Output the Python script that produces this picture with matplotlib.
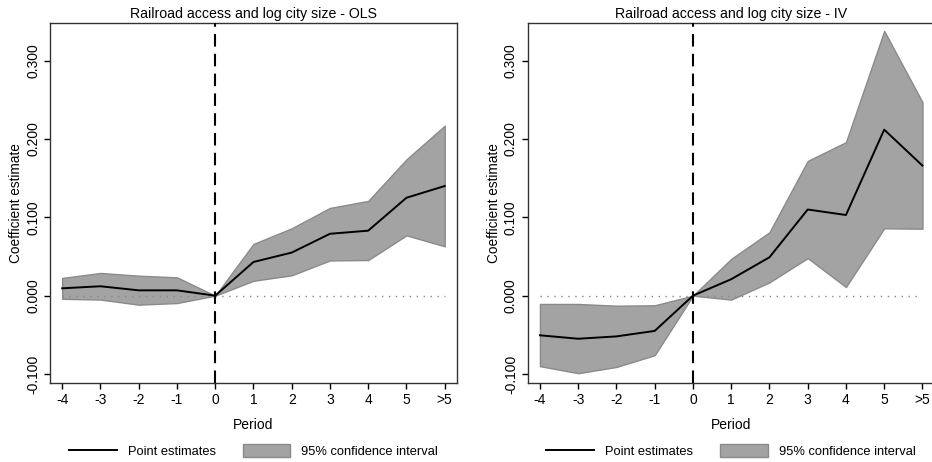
import numpy as np
import matplotlib.pyplot as plt
from matplotlib.patches import Patch
from matplotlib.lines import Line2D

plt.rcParams['font.family'] = ['Liberation Sans', 'DejaVu Sans']

# Event-time periods
periods = ['-4', '-3', '-2', '-1', '0', '1', '2', '3', '4', '5', '>5']

# OLS estimates and 95% CI
ols_point = [0.0094, 0.012, 0.0068, 0.0068, 0.0, 0.043, 0.055, 0.079, 0.083, 0.125, 0.140]
ols_upper = [0.0226, 0.029, 0.0255, 0.0234, 0.0, 0.066, 0.086, 0.112, 0.121, 0.174, 0.217]
ols_lower = [-0.004, -0.005, -0.0115, -0.0094, 0.0, 0.019, 0.026, 0.045, 0.0455, 0.077, 0.063]

# IV estimates and 95% CI
iv_point = [-0.0506, -0.055, -0.052, -0.045, 0.0, 0.021, 0.049, 0.110, 0.103, 0.212, 0.166]
iv_upper = [-0.0106, -0.0106, -0.0128, -0.0123, 0.0, 0.047, 0.081, 0.172, 0.196, 0.338, 0.247]
iv_lower = [-0.090, -0.099, -0.091, -0.076, 0.0, -0.005, 0.017, 0.048, 0.011, 0.086, 0.0855]

panels = [
    ('Railroad access and log city size - OLS', ols_point, ols_lower, ols_upper),
    ('Railroad access and log city size - IV', iv_point, iv_lower, iv_upper),
]

fig = plt.figure(figsize=(9.32, 4.62), dpi=100)
axes = [fig.add_axes([0.0536, 0.171, 0.4367, 0.779]),
        fig.add_axes([0.5662, 0.171, 0.4367, 0.779])]

x = np.arange(len(periods))
fill_col = '#a3a3a3'
edge_col = '#8a8a8a'

for ax, (title, point, lower, upper) in zip(axes, panels):
    ax.fill_between(x, lower, upper, facecolor=fill_col, edgecolor=edge_col, linewidth=1.0, zorder=1)
    ax.plot(x, point, color='black', linewidth=1.4, zorder=3)
    # zero reference line and treatment period
    ax.plot([x[0], x[-1]], [0, 0], color='#888888', linestyle=(0, (1, 4)), linewidth=1.0, zorder=2)
    ax.axvline(4, color='black', linestyle=(0, (6, 3.5)), linewidth=1.5, zorder=4)

    ax.set_xlim(-0.32, 10.32)
    ax.set_ylim(-0.1115, 0.348)
    ax.set_xticks(x)
    ax.set_xticklabels(periods)
    ax.set_yticks([-0.1, 0.0, 0.1, 0.2, 0.3])
    ax.set_yticklabels(['-0.100', '0.000', '0.100', '0.200', '0.300'], rotation=90, va='center')
    ax.tick_params(direction='out', length=4, width=1, labelsize=10, colors='black', pad=3)
    for s in ax.spines.values():
        s.set_color('#333333')
        s.set_linewidth(1.0)

    ax.set_title(title, fontsize=10.2, pad=4)
    ax.set_xlabel('Period', fontsize=10, labelpad=8)
    ax.set_ylabel('Coefficient estimate', fontsize=9.8, labelpad=2)

    handles = [Line2D([0], [0], color='black', linewidth=1.4),
               Patch(facecolor=fill_col, edgecolor=edge_col, linewidth=1.0)]
    ax.legend(handles, ['Point estimates', '95% confidence interval'],
              loc='center', bbox_to_anchor=(0.5, -0.189), ncol=2, frameon=False,
              fontsize=9.3, handlelength=3.7, handleheight=1.15, columnspacing=2.1,
              handletextpad=0.85, borderpad=0, borderaxespad=0)

fig.savefig('out.png', dpi=100)
